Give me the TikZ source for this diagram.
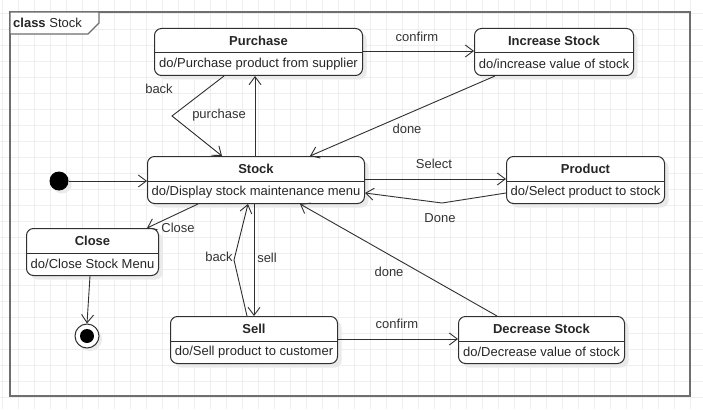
\documentclass[tikz,border=0pt]{standalone}
\usepackage{fontspec}
\setmainfont{Liberation Sans}
\usetikzlibrary{arrows.meta,shadows}
\definecolor{gridc}{HTML}{EEEEEE}
\definecolor{framec}{HTML}{6E6E6E}
\definecolor{linec}{HTML}{303030}
\definecolor{shadc}{HTML}{EAEAEA}
\newcommand{\mkstate}[6]{%
  \node[state, minimum width=#4pt, anchor=north west] (#1) at (#2,#3) {};
  \draw[divider] ([yshift=-25pt]#1.north west) -- ([yshift=-25pt]#1.north east);
  \node[stitle] (#1T) at ([yshift=-12.5pt]#1.north) {#5};
  \node[sbody] (#1B) at ([yshift=-36pt]#1.north) {#6};
}
\begin{document}
\begin{tikzpicture}[x=1pt,y=-1pt,
  font=\fontsize{13}{15}\selectfont,
  state/.style={draw=linec, line width=1pt, rounded corners=7pt, fill=white,
    minimum height=47pt, inner sep=0pt,
    drop shadow={shadow xshift=4pt, shadow yshift=-4pt, fill=shadc, opacity=1}},
  divider/.style={draw=linec, line width=1pt},
  stitle/.style={font=\fontsize{13}{15}\selectfont\bfseries, text=black!85, inner sep=0pt},
  sbody/.style={text=black!85, inner sep=0pt},
  lbl/.style={text=black!80, inner sep=0pt},
  arr/.style={draw=linec, line width=0.9pt, -{Straight Barb[length=8pt,width=12pt]}},
  ln/.style={draw=linec, line width=0.9pt}
]
\useasboundingbox (0,0) rectangle (703,409);
\fill[white] (0,0) rectangle (703,409);
% grid
\foreach \i in {0,...,43} \draw[gridc, line width=0.7pt] ({2.7+16*\i},0) -- ({2.7+16*\i},409);
\foreach \j in {0,...,24} \draw[gridc, line width=0.7pt] (0,{13.3+16*\j}) -- (703,{13.3+16*\j});
% frame
\draw[framec, line width=1.6pt] (10,12) rectangle (690,396);
\draw[framec, line width=1.2pt, fill=white] (10,12) -- (99,12) -- (99,23) -- (88,34) -- (10,34) -- cycle;
\node[anchor=west, inner sep=0pt, text=black!85] (ftitle) at (13,23) {\textbf{class} Stock};
% states
\mkstate{purch}{154}{28}{208}{Purchase}{do/Purchase product from supplier}
\mkstate{inc}{474}{28}{159}{Increase Stock}{do/increase value of stock}
\mkstate{stock}{147}{156}{217}{Stock}{do/Display stock maintenance menu}
\mkstate{prod}{506}{156}{158}{Product}{do/Select product to stock}
\mkstate{close}{26}{228}{132}{Close}{do/Close Stock Menu}
\mkstate{sell}{170}{316}{167}{Sell}{do/Sell product to customer}
\mkstate{dec}{458}{316}{166}{Decrease Stock}{do/Decrease value of stock}
% initial and final
\node[circle, fill=black, minimum size=19pt, inner sep=0pt,
  drop shadow={shadow xshift=3pt, shadow yshift=-3pt, fill=shadc, opacity=1}] (init) at (59,181) {};
\node[circle, draw=linec, line width=1pt, fill=white, minimum size=24pt, inner sep=0pt,
  drop shadow={shadow xshift=3pt, shadow yshift=-3pt, fill=shadc, opacity=1}] (final) at (87,336) {};
\node[circle, fill=black, minimum size=14pt, inner sep=0pt] (finalc) at (final) {};
% waypoints
\coordinate (bk1) at (172,116);
\coordinate (bk2) at (442,203);
\coordinate (bk3) at (234,260);
% connectors
\draw[arr] (init.east) -- (stock.west |- init.east);
\draw[arr] (purch.east |- 0,51) -- (inc.west |- 0,51);
\draw[arr] (stock.north -| 255,0) -- (purch.south -| 255,0);
\draw[arr] (purch.south -| 224,0) -- (bk1) -- (stock.north -| 222,0);
\draw[arr] (inc.south -| 495,0) -- (stock.north -| 310,0);
\draw[arr] (stock.east |- 0,179) -- (prod.west |- 0,179);
\draw[arr] (prod.west |- 0,193) -- (bk2) -- (stock.east |- 0,193);
\draw[arr] (stock.south -| 198,0) -- (close.north -| 147,0);
\draw[arr] (stock.south -| 254,0) -- (sell.north -| 254,0);
\draw[arr] (sell.north -| 247,0) -- (bk3) -- (stock.south -| 248,0);
\draw[arr] (dec.north -| 497,0) -- (stock.south -| 300,0);
\draw[arr] (sell.east |- 0,339) -- (dec.west |- 0,339);
\draw[arr] (close.south -| 90,0) -- (final.north);
% labels
\node[lbl] (l1) at (417,37) {confirm};
\node[lbl] (l2) at (219,115) {purchase};
\node[lbl] (l3) at (159,89) {back};
\node[lbl] (l4) at (407,129) {done};
\node[lbl] (l5) at (434,164) {Select};
\node[lbl] (l6) at (440,218) {Done};
\node[lbl] (l7) at (178,228) {Close};
\node[lbl] (l8) at (267,258) {sell};
\node[lbl] (l9) at (219,257) {back};
\node[lbl] (l10) at (389,272) {done};
\node[lbl] (l11) at (397,324) {confirm};
\end{tikzpicture}
\end{document}
